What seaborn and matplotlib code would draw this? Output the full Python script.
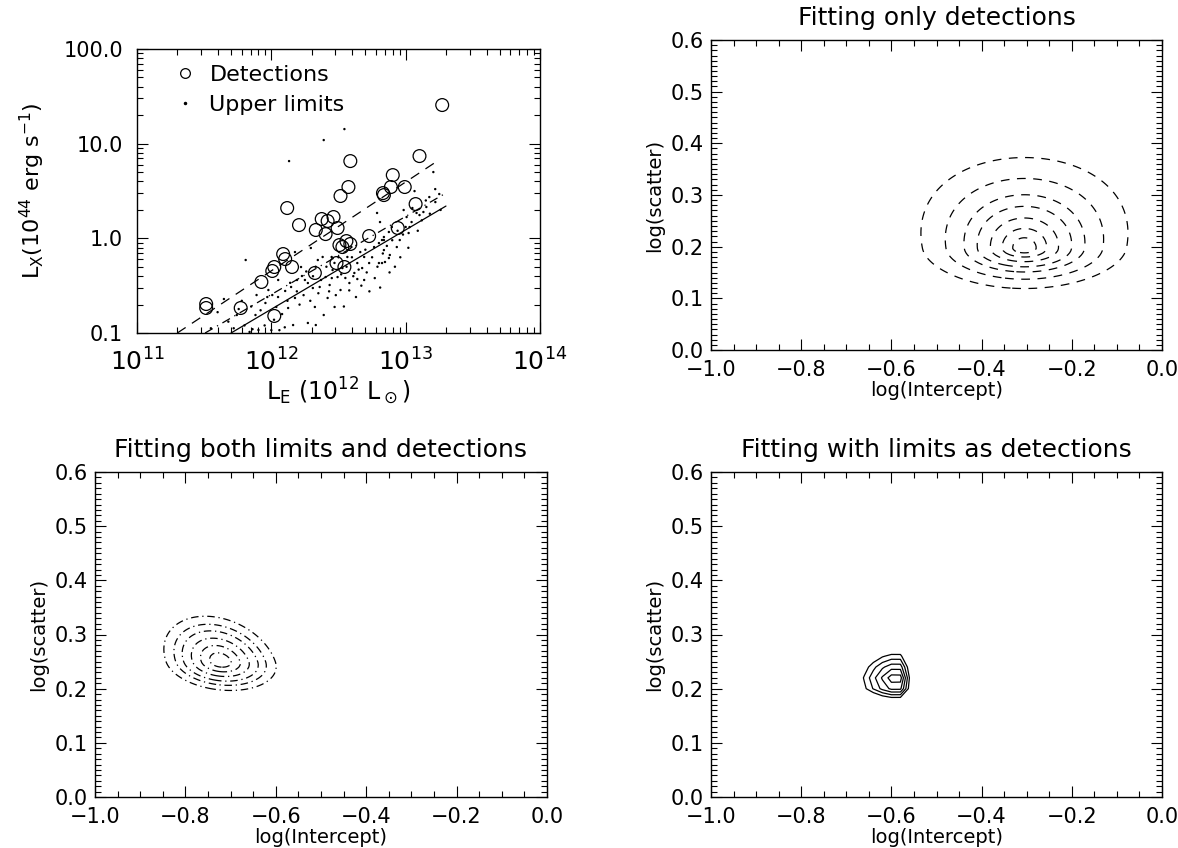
import numpy as np
import pandas as pd
import seaborn as sns
import matplotlib
matplotlib.use("Agg")
import matplotlib.pyplot as plt
from matplotlib.ticker import MultipleLocator, FixedLocator, FixedFormatter, FuncFormatter
from matplotlib.lines import Line2D

# ---------------- data ----------------
# detections (log10 L_E [L_sun], log10 L_X [1e44 erg/s])
det_logLE = [11.515, 11.515, 11.772, 12.022, 11.926, 12.007, 12.022, 12.088, 12.103, 12.154,
             12.118, 12.206, 12.331, 12.375, 12.419, 12.463, 12.404, 12.493, 12.515, 12.574,
             12.588, 12.559, 12.588, 12.507, 12.529, 12.485, 12.544, 12.324, 12.728, 12.831,
             12.838, 12.890, 12.993, 12.904, 13.074, 12.941, 13.103, 13.272]
det_logLX = [-0.694, -0.736, -0.736, -0.820, -0.461, -0.345, -0.303, -0.166, -0.219, -0.303,
             0.320, 0.140, 0.088, 0.204, 0.183, 0.225, 0.045, 0.109, 0.447, 0.542,
             0.816, -0.029, -0.060, -0.071, -0.092, -0.261, -0.303, -0.366, 0.024, 0.478,
             0.457, 0.542, 0.542, 0.668, 0.362, 0.109, 0.869, 1.408]

# upper limits
ul_logLE = [11.647, 11.757, 11.743, 11.838, 11.890, 11.882, 11.956, 11.978, 12.037, 12.103,
            12.147, 12.176, 12.191, 12.221, 12.228, 12.250, 12.272, 12.294, 12.309, 12.346,
            12.360, 12.382, 12.404, 12.419, 12.434, 12.449, 12.456, 12.471, 12.493, 12.515,
            12.529, 12.551, 12.566, 12.581, 12.596, 12.618, 12.640, 12.640, 12.662, 12.676,
            12.691, 12.691, 12.728, 12.765, 12.801, 12.838, 12.125, 12.162, 12.272, 12.331,
            11.904, 12.051, 12.007, 12.176, 12.324,
            12.544, 12.390, 12.132, 11.809,
            13.206, 13.066, 13.176, 13.250, 13.221, 13.154, 13.132, 13.103, 12.985, 13.007,
            13.044, 13.029, 13.081, 12.897, 12.875, 12.838, 12.809, 12.787, 12.956, 13.022,
            12.934, 12.882, 12.875, 12.846, 12.824, 12.801, 12.824, 12.838,
            12.05, 12.08, 12.12, 12.14, 12.19, 12.21, 12.24, 12.26, 12.29, 12.31,
            12.33, 12.35, 12.37, 12.39, 12.41, 12.43, 12.45, 12.47, 12.48, 12.50,
            12.52, 12.54, 12.56, 12.58, 12.60, 12.61, 12.63, 12.65, 12.67, 12.70,
            12.71, 12.73, 12.75, 12.77, 12.79, 12.81, 12.83, 12.86, 12.88, 12.90,
            12.92, 12.94, 12.96, 12.98, 13.00, 13.02, 13.05, 13.09, 13.12, 13.15,
            13.18, 13.22, 13.26, 11.68, 11.72, 11.78, 11.80, 11.85, 11.86, 11.92,
            11.95, 11.97, 12.00, 12.02, 12.06, 12.10, 11.60, 11.55]
ul_logLX = [-0.641, -0.747, -0.810, -0.989, -0.599, -0.810, -0.683, -0.546, -0.725, -0.556,
            -0.514, -0.145, -0.440, -0.303, -0.398, -0.440, -0.472, -0.102, -0.525, -0.229,
            -0.514, -0.197, -0.409, -0.630, -0.493, -0.197, -0.335, -0.725, -0.409, -0.546,
            -0.314, -0.419, -0.197, -0.472, -0.092, -0.366, -0.261, -0.430, -0.145, -0.314,
            -0.440, -0.197, -0.261, -0.092, -0.261, -0.018, -0.736, -0.916, -0.894, -0.916,
            -0.968, -0.440, -0.599, -0.630, -0.725,
            1.154, 1.038, 0.816, -0.229,
            0.700, 0.499, 0.436, 0.468, 0.383, 0.331, 0.278, 0.246, 0.299, 0.225,
            0.172, 0.119, 0.268, 0.119, 0.067, 0.014, 0.172, 0.268, -0.018, 0.056,
            -0.092, -0.176, -0.208, -0.250, -0.261, -0.050, -0.018, -0.124,
            -0.62, -0.80, -0.66, -0.47, -0.56, -0.70, -0.60, -0.35, -0.66, -0.40,
            -0.30, -0.58, -0.44, -0.81, -0.30, -0.56, -0.42, -0.26, -0.60, -0.20,
            -0.38, -0.72, -0.30, -0.55, -0.20, -0.40, -0.62, -0.33, -0.50, -0.12,
            -0.36, -0.56, -0.20, -0.42, -0.30, -0.52, -0.16, -0.08, -0.36, -0.02,
            -0.30, 0.08, -0.20, 0.04, 0.12, -0.10, 0.32, 0.08, 0.19, 0.40,
            0.26, 0.52, 0.30, -0.88, -0.95, -0.66, -0.92, -0.72, -0.96, -0.76,
            -0.92, -0.62, -0.97, -0.86, -0.97, -0.94, -0.78, -0.95]

# fitted relations (log endpoints)
fit_names = ["upper", "middle", "lower"]
fit_logx0 = [11.300, 11.507, 11.700]
fit_logx1 = [13.213, 13.287, 13.300]
fit_logy0 = [-1.000, -1.000, -1.000]
fit_logy1 = [0.795, 0.468, 0.341]

# likelihood contour descriptions (centre, widths, levels) per panel
cont_titles = ["Fitting only detections", "Fitting both limits and detections",
               "Fitting with limits as detections"]
cont_x0 = [-0.305, -0.722, -0.585]
cont_y0 = [0.197, 0.250, 0.212]
cont_sx_left = [0.029, 0.0195, 0.013]
cont_sx_right = [0.029, 0.0195, 0.0042]
cont_su = [0.0225, 0.0135, 0.0087]
cont_sd = [0.010, 0.0086, 0.0048]
cont_k = [1.0, 0.0, 0.0]
cont_tilt = [0.0, 0.41, 0.0]
cont_levels = [[0.9, 1.7, 2.6, 3.6, 4.6, 6.0, 7.8],
               [1.2, 2.2, 3.2, 4.2, 5.1, 6.2],
               [1.0, 2.0, 3.0, 4.0, 5.0, 6.0]]
cont_grid_step = [0.004, 0.004, 0.02]

# ---------------- style ----------------
sns.set_style("ticks")
plt.rcParams['font.family'] = ['DejaVu Sans']
plt.rcParams['mathtext.fontset'] = 'dejavusans'
plt.rcParams['axes.linewidth'] = 1.0
plt.rcParams['text.color'] = 'black'
plt.rcParams['axes.labelcolor'] = 'black'
plt.rcParams['xtick.color'] = 'black'
plt.rcParams['ytick.color'] = 'black'

W, H = 1178, 848
fig = plt.figure(figsize=(W / 100, H / 100), dpi=100)


def add_ax(l, r, t, b):
    return fig.add_axes([l / W, 1 - b / H, (r - l) / W, (b - t) / H])


def style_ticks(ax, lab=15, pad=8):
    ax.tick_params(which='both', direction='in', top=True, right=True, width=0.8,
                   labelsize=lab, colors='black')
    ax.tick_params(which='major', length=8, pad=pad)
    ax.tick_params(which='minor', length=4)
    for s in ax.spines.values():
        s.set_color('black')
        s.set_linewidth(1.0)


def fmt1(v, p):
    return f"{v:.1f}".replace("-", "\u2212")


# ---------------- top-left: scatter ----------------
ax = add_ax(137, 540, 49, 333)
ax.set_xscale('log')
ax.set_yscale('log')
df_det = pd.DataFrame({"LE": 10 ** np.array(det_logLE), "LX": 10 ** np.array(det_logLX)})
df_ul = pd.DataFrame({"LE": 10 ** np.array(ul_logLE), "LX": 10 ** np.array(ul_logLX)})
sns.scatterplot(data=df_ul, x="LE", y="LX", ax=ax, marker='o', s=3, color='black',
                edgecolor='none', linewidth=0, legend=False)
sns.scatterplot(data=df_det, x="LE", y="LX", ax=ax, marker='o', s=85, facecolor='none',
                edgecolor='black', linewidth=0.9, legend=False)
styles = [(0, (8, 6)), (0, (7, 4, 1, 4)), '-']
for i, name in enumerate(fit_names):
    dfl = pd.DataFrame({"LE": [10 ** fit_logx0[i], 10 ** fit_logx1[i]],
                        "LX": [10 ** fit_logy0[i], 10 ** fit_logy1[i]]})
    sns.lineplot(data=dfl, x="LE", y="LX", ax=ax, color='black', linewidth=0.9, sort=False)
    ax.lines[-1].set_linestyle(styles[i])
ax.set_xlim(1e11, 1e14)
ax.set_ylim(0.1, 100)
ax.xaxis.set_major_locator(FixedLocator([1e11, 1e12, 1e13, 1e14]))
ax.xaxis.set_major_formatter(FixedFormatter(["$10^{11}$", "$10^{12}$", "$10^{13}$", "$10^{14}$"]))
ax.yaxis.set_major_locator(FixedLocator([0.1, 1, 10, 100]))
ax.yaxis.set_major_formatter(FixedFormatter(["0.1", "1.0", "10.0", "100.0"]))
style_ticks(ax, 15, 10)
ax.tick_params(axis='x', which='major', labelsize=18, pad=11)
ax.set_xlabel(r"L$_\mathregular{E}$ (10$^{12}$ L$_\odot$)", fontsize=17, labelpad=0)
ax.set_ylabel(r"L$_\mathregular{X}$(10$^{44}$ erg s$^{-1}$)", fontsize=16, labelpad=12)
handles = [Line2D([], [], marker='o', linestyle='none', markerfacecolor='none',
                  markeredgecolor='black', markersize=7, markeredgewidth=0.9),
           Line2D([], [], marker='o', linestyle='none', color='black', markersize=1.5)]
ax.legend(handles, ["Detections", "Upper limits"], loc='upper left', frameon=False,
          fontsize=16, handlelength=0.8, handletextpad=0.7, borderaxespad=0.0,
          labelspacing=0.45, bbox_to_anchor=(0.075, 0.975))

# ---------------- contour panels ----------------
panel_box = [(711, 1162, 40, 350), (95, 547, 472, 797), (711, 1162, 472, 797)]
panel_ls = [(0, (7, 6)), (0, (6, 3, 1, 3)), '-']
for i in range(3):
    ax = add_ax(*panel_box[i])
    step = cont_grid_step[i]
    gx = np.arange(-1.0, 0.0 + step / 2, step)
    gy = np.arange(0.0, 0.6 + step / 2, step)
    X, Y = np.meshgrid(gx, gy)
    dy = Y - cont_y0[i]
    dx = X - cont_x0[i] + cont_tilt[i] * dy
    sx = np.where(dx > 0, cont_sx_right[i], cont_sx_left[i]) * (1 + cont_k[i] * dy)
    sy = np.where(dy > 0, cont_su[i], cont_sd[i])
    R = np.sqrt((dx / sx) ** 2 + (dy / sy) ** 2)
    ax.contour(X, Y, R, levels=cont_levels[i], colors='black', linewidths=0.9,
               linestyles=[panel_ls[i]])
    ax.set_xlim(-1.0, 0.0)
    ax.set_ylim(0.0, 0.6)
    ax.xaxis.set_major_locator(MultipleLocator(0.2))
    ax.xaxis.set_minor_locator(MultipleLocator(0.05))
    ax.yaxis.set_major_locator(MultipleLocator(0.1))
    ax.yaxis.set_minor_locator(MultipleLocator(0.01))
    ax.xaxis.set_major_formatter(FuncFormatter(fmt1))
    ax.yaxis.set_major_formatter(FuncFormatter(fmt1))
    style_ticks(ax, 15, 7)
    ax.tick_params(axis='y', which='major', pad=5)
    ax.set_xlabel("log(Intercept)", fontsize=14, labelpad=1)
    ax.set_ylabel("log(scatter)", fontsize=14, labelpad=5)
    ax.set_title(cont_titles[i], fontsize=18, pad=11)

fig.savefig("out.png", dpi=100, facecolor='white')
